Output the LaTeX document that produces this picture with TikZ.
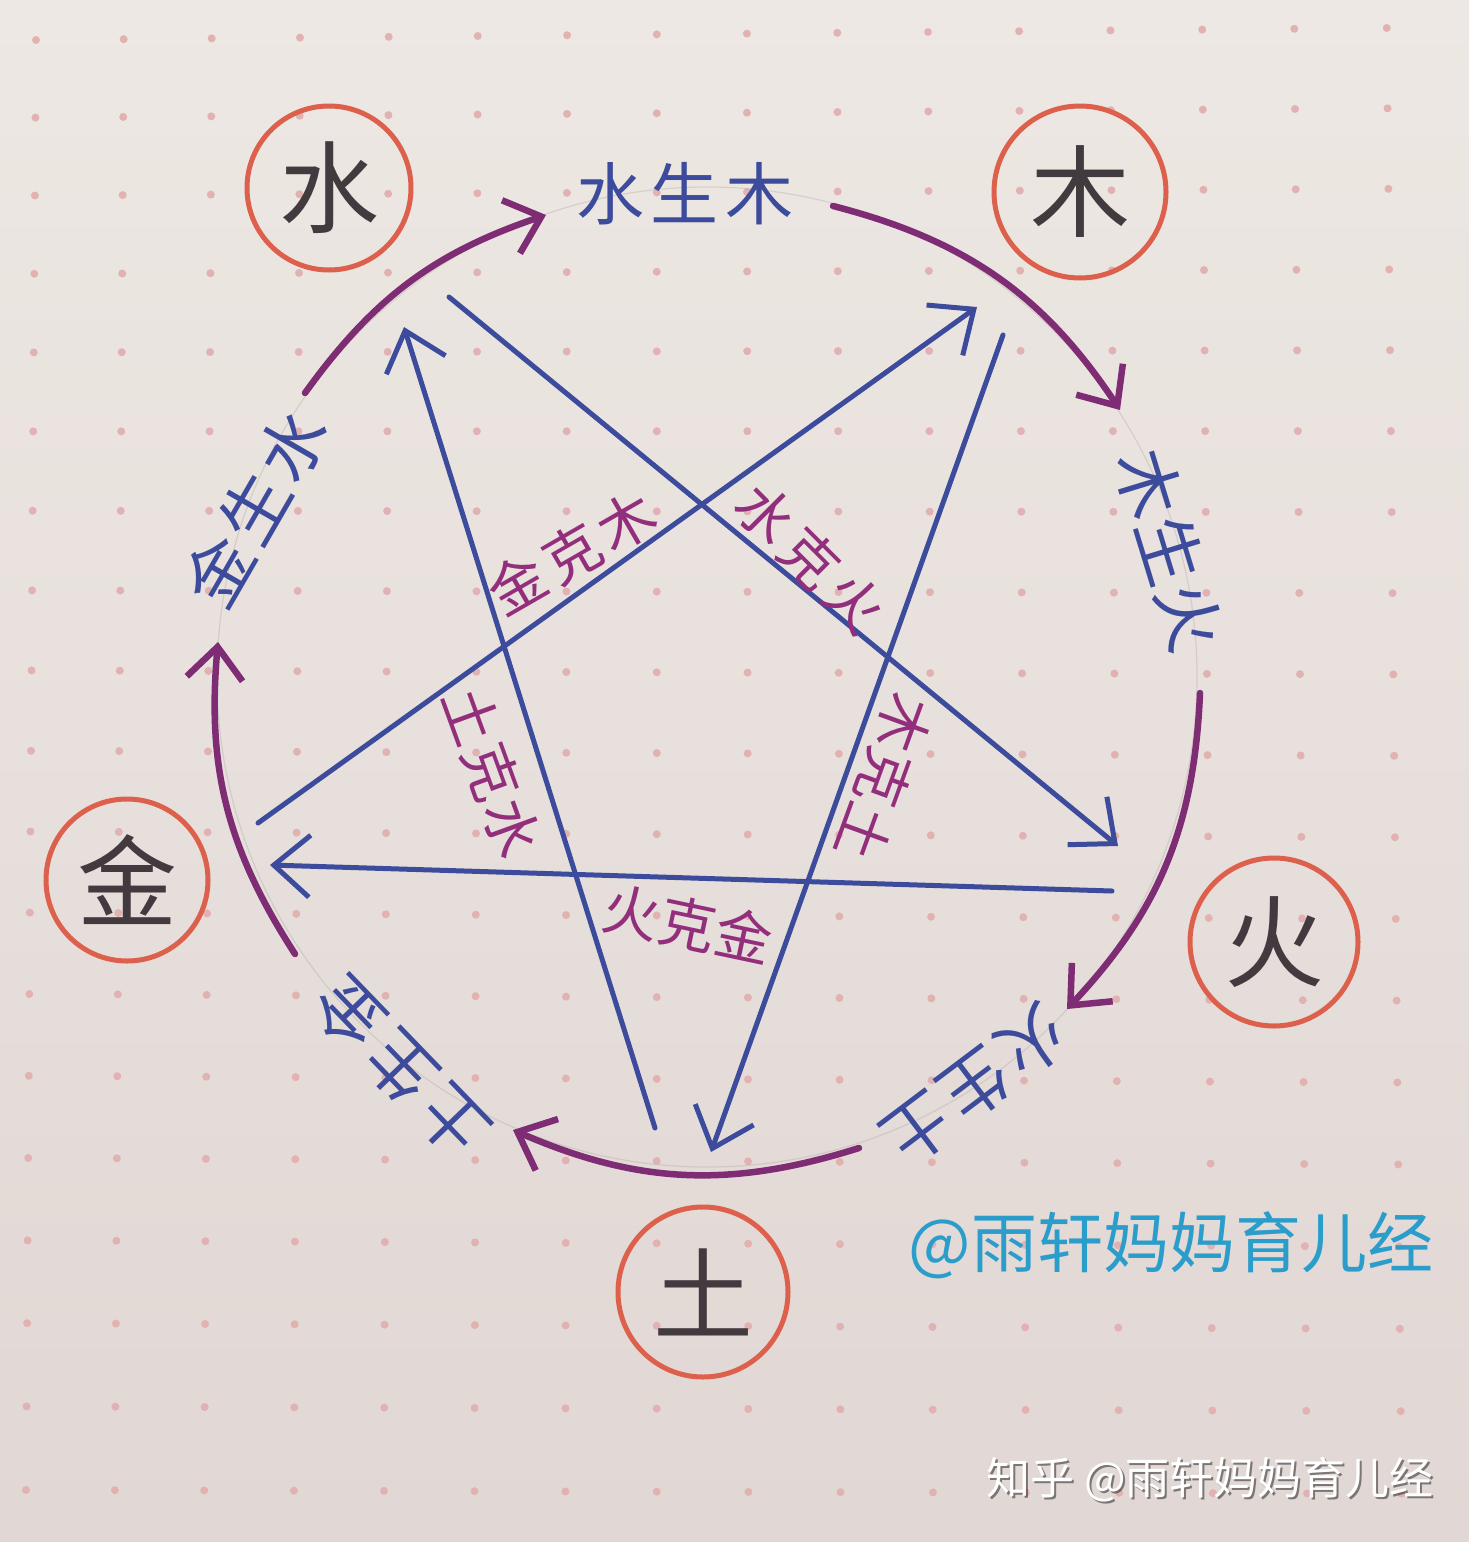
\documentclass[tikz,border=0pt]{standalone}
\usepackage{fontspec}
\newfontfamily\cjk{Noto Sans CJK SC}
\usetikzlibrary{arrows.meta}
\definecolor{paperTop}{HTML}{EDE8E3}
\definecolor{paperBot}{HTML}{E1D7D4}
\definecolor{dotpink}{HTML}{E2B2B2}
\definecolor{ringred}{HTML}{DD604C}
\definecolor{inkblack}{HTML}{433A3F}
\definecolor{inkblue}{HTML}{3C4B9B}
\definecolor{inkpurple}{HTML}{7E2C74}
\definecolor{inkmagenta}{HTML}{922E7C}
\definecolor{inkcyan}{HTML}{2A9DCA}
\definecolor{pencil}{HTML}{BDB3AF}
\tikzset{
  element/.style={circle, draw=ringred, line width=5pt, inner sep=0pt, text=inkblack,
    font=\cjk\fontsize{100}{100}\selectfont},
  sheng/.style={text=inkblue, inner sep=0pt, font=\cjk\fontsize{68}{68}\selectfont},
  ke/.style={text=inkmagenta, inner sep=0pt, font=\cjk\fontsize{57}{57}\selectfont},
  genarc/.style={draw=inkpurple, line width=6.5pt, line cap=round,
    -{Straight Barb[length=32pt,width=56pt]}},
  kearrow/.style={draw=inkblue, line width=5pt, line cap=round,
    -{Straight Barb[length=36pt,width=62pt]}},
  guide/.style={draw=pencil, line width=1.2pt, opacity=0.45},
}
\begin{document}
\begin{tikzpicture}[x=1pt,y=-1pt]
\useasboundingbox (0,0) rectangle (1469,1542);
\shade[top color=paperTop, bottom color=paperBot] (0,0) rectangle (1469,1542);
% dotted paper
\foreach \j in {0,...,18}{
  \foreach \i in {0,...,15}{
    \pgfmathsetmacro\myT{\j/18}
    \pgfmathsetmacro\myU{\i/15}
    \pgfmathsetmacro\dotX{36-10*\myT + (87.5+1.2*\myT)*\i + (0.17+0.03*\myT)*\i*\i}
    \pgfmathsetmacro\dotY{(40-12*\myU) + (77.4+2.9*\myU)*\j + (0.175-0.1125*\myU)*\j*\j}
    \fill[dotpink] (\dotX,\dotY) circle[radius=4];
  }
}
% pencil guide circle
\coordinate (ctr) at (707,677);
\draw[guide] (ctr) circle[radius=490];

% elements
\node[element, minimum size=164pt] (shui) at (329,188) {水};
\node[element, minimum size=172pt] (mu)   at (1080,192) {木};
\node[element, minimum size=168pt] (huo)  at (1274,942) {火};
\node[element, minimum size=170pt] (tu)   at (703,1292) {土};
\node[element, minimum size=162pt] (jin)  at (127,880) {金};

% generating cycle labels
\node[sheng] (shuimu) at (685,194) {水\kern7pt 生\kern7pt 木};
\node[sheng, rotate=-73] (muhuo) at (1170,550) {木\kern2pt 生\kern2pt 火};
\node[sheng, rotate=-143] (huotu) at (975,1085) {火\kern4pt 生\kern4pt 土};
\node[sheng, rotate=134] (tujin) at (400,1068) {土\kern7pt 生\kern7pt 金};
\node[sheng, rotate=60] (jinshui) at (255,508) {金\kern5pt 生\kern5pt 水};

% generating cycle arcs
\coordinate (a1s) at (305,393);  \coordinate (a1e) at (546,215);
\coordinate (a2s) at (833,206);  \coordinate (a2e) at (1120,410);
\coordinate (a3s) at (1200,693); \coordinate (a3e) at (1067,1009);
\coordinate (a4s) at (859,1148); \coordinate (a4e) at (513,1130);
\coordinate (a5s) at (295,954);  \coordinate (a5e) at (218,642);
\draw[genarc] (a1s) to[bend left=17.8] (a1e);
\draw[genarc] (a2s) to[bend left=21] (a2e);
\draw[genarc] (a3s) to[bend left=20.4] (a3e);
\draw[genarc] (a4s) to[bend left=20.5] (a4e);
\draw[genarc] (a5s) to[bend left=19] (a5e);

% controlling cycle (pentagram)
\coordinate (k1s) at (258,823);  \coordinate (k1e) at (977,307);
\coordinate (k2s) at (1003,335); \coordinate (k2e) at (711,1152);
\coordinate (k3s) at (655,1128); \coordinate (k3e) at (404,327);
\coordinate (k4s) at (449,297);  \coordinate (k4e) at (1118,846);
\coordinate (k5s) at (1112,891); \coordinate (k5e) at (270,865);
\draw[kearrow] (k1s) -- (k1e);
\draw[kearrow] (k2s) -- (k2e);
\draw[kearrow] (k3s) -- (k3e);
\draw[kearrow] (k4s) -- (k4e);
\draw[kearrow] (k5s) -- (k5e);

% controlling labels
\node[ke, rotate=30]   (jinmu)   at (572,553) {金\kern6pt 克\kern6pt 木};
\node[ke, rotate=-45]  (shuihuo) at (810,558) {水\kern6pt 克\kern6pt 火};
\node[ke, rotate=-110] (mutu)    at (884,778) {木\kern1pt 克\kern1pt 土};
\node[ke, rotate=-70]  (tushui)  at (492,772) {土\kern3pt 克\kern3pt 水};
\node[ke, rotate=-12]  (huojin)  at (688,924) {火\kern0pt 克\kern0pt 金};

% signatures
\node[text=inkcyan, inner sep=0pt, font=\cjk\fontsize{66}{66}\selectfont] (sig) at (1171,1245) {@雨轩妈妈育儿经};
\node[text=black, opacity=0.45, inner sep=0pt, font=\cjk\fontsize{44}{44}\selectfont] (zhshadow) at (1212,1482) {知乎 @雨轩妈妈育儿经};
\node[text=white, inner sep=0pt, font=\cjk\fontsize{44}{44}\selectfont] (zh) at (1210,1480) {知乎 @雨轩妈妈育儿经};
\end{tikzpicture}
\end{document}
